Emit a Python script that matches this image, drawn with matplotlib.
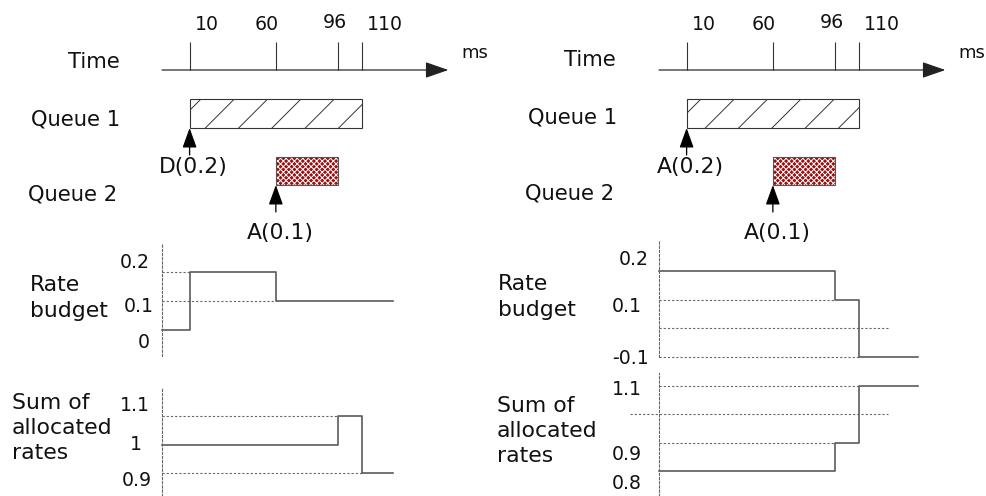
import matplotlib.pyplot as plt

# figure is laid out in pixels; drawn at 200 dpi so the hatch tile matches
W, H, DPI = 987, 496, 200
PT = 72 / DPI  # points per pixel

plt.rcParams['lines.scale_dashes'] = False
plt.rcParams['hatch.linewidth'] = 0.35

# ---- data (time in ms) ----
t_axis = -6  # time where the value axes sit

time_ticks = [10, 60, 96, 110]
time_tick_labels = ['10', '60', '96', '110']
time_end = 160

queue1_span = (10, 110)
queue2_span = (60, 96)

left_budget_t = [t_axis, 10, 60, 128]
left_budget_v = [0.0, 0.2, 0.1, 0.1]
left_budget_guides = [0.2, 0.1]
left_budget_guide_starts = [t_axis, t_axis]
left_budget_guide_ends = [10, 60]
left_budget_ticks = [0.2, 0.1, 0.0]
left_budget_tick_labels = ['0.2', '0.1', '0']

left_sum_t = [t_axis, 96, 110, 128]
left_sum_v = [1.0, 1.1, 0.9, 0.9]
left_sum_guides = [1.1, 0.9]
left_sum_guide_starts = [t_axis, t_axis]
left_sum_guide_ends = [96, 110]
left_sum_ticks = [1.1, 1.0, 0.9]
left_sum_tick_labels = ['1.1', '1', '0.9']

right_budget_t = [t_axis, 96, 110, 144]
right_budget_v = [0.2, 0.1, -0.1, -0.1]
right_budget_guides = [0.1, 0.0, -0.1]
right_budget_guide_starts = [t_axis, t_axis, t_axis]
right_budget_guide_ends = [96, 127, 110]
right_budget_ticks = [0.2, 0.1, -0.1]
right_budget_tick_labels = ['0.2', '0.1', '-0.1']

right_sum_t = [t_axis, 96, 110, 144]
right_sum_v = [0.8, 0.9, 1.1, 1.1]
right_sum_guides = [1.1, 1.0, 0.9]
right_sum_guide_starts = [t_axis, -23, t_axis]
right_sum_guide_ends = [110, 127, 96]
right_sum_ticks = [1.1, 0.9, 0.8]
right_sum_tick_labels = ['1.1', '0.9', '0.8']

# ---- layout ----
PX_PER_MS = 1.725
LINE_GRAY = '#555555'
DOT_GRAY = '#666666'
DARK = '#333333'
RED = '#9a1010'
ROW_FS = 7.6
BIG_FS = 7.9
NUM_FS = 6.8
ARR_FS = 7.9
MS_FS = 6.5
DOTTED = (0, (2.2 * PT, 2.0 * PT))

fig = plt.figure(figsize=(W / DPI, H / DPI), dpi=DPI)


def px_axes(x0, y0, x1, y1):
    ax = fig.add_axes([x0 / W, 1 - y1 / H, (x1 - x0) / W, (y1 - y0) / H])
    ax.set_xlim(t_axis, t_axis + (x1 - x0) / PX_PER_MS)
    ax.set_xticks([])
    ax.set_yticks([])
    for s in ax.spines.values():
        s.set_visible(False)
    ax.patch.set_alpha(0)
    return ax


def fig_text(x, y, s, size, ha='center'):
    fig.text(x / W, 1 - y / H, s, fontsize=size, ha=ha, va='center',
             color='#111111', linespacing=1.32)


def draw_top(axis_px, arrow_label):
    ax = px_axes(axis_px, 0, axis_px + 320, 250)
    ax.set_ylim(250, 0)
    axis_y = 70
    ax.annotate('', xy=(time_end, axis_y), xytext=(t_axis, axis_y),
                arrowprops=dict(arrowstyle='-|>,head_length=0.72,head_width=0.25',
                                mutation_scale=10, color='#222222', lw=1.2 * PT,
                                shrinkA=0, shrinkB=0))
    ax.vlines(time_ticks, 42, axis_y, color=DARK, lw=1.1 * PT)
    offsets = [(17, 45), (-9, 45), (-3, 48), (23, 45)]
    for t, lab, (ox, oy) in zip(time_ticks, time_tick_labels, offsets):
        ax.annotate(lab, xy=(t, axis_y), xytext=(ox, oy), textcoords='offset pixels',
                    ha='center', va='center', fontsize=NUM_FS, color='#111111')
    ax.annotate('ms', xy=(time_end, axis_y), xytext=(26, 17), textcoords='offset pixels',
                ha='center', va='center', fontsize=MS_FS, color='#111111')

    # queue 1 busy period
    ax.barh(113.5, queue1_span[1] - queue1_span[0], left=queue1_span[0], height=29,
            facecolor='white', edgecolor=DARK, hatch='//', lw=1.1 * PT)
    # queue 2 busy period
    ax.barh(171, queue2_span[1] - queue2_span[0], left=queue2_span[0], height=28,
            facecolor=RED, edgecolor='white', hatch='x' * 12, lw=0)
    ax.barh(171, queue2_span[1] - queue2_span[0], left=queue2_span[0], height=28,
            fill=False, edgecolor='#555555', lw=1.1 * PT)

    arrow = dict(arrowstyle='-|>,head_length=0.61,head_width=0.22', mutation_scale=10,
                 color='black', lw=1.3 * PT, shrinkA=0, shrinkB=0)
    ax.annotate('', xy=(queue1_span[0], 128), xytext=(queue1_span[0], 155), arrowprops=arrow)
    ax.annotate('', xy=(queue2_span[0], 185), xytext=(queue2_span[0], 212), arrowprops=arrow)
    ax.annotate(arrow_label, xy=(queue1_span[0], 167), xytext=(4, 0), textcoords='offset pixels',
                ha='center', va='center', fontsize=ARR_FS, color='#111111')
    ax.annotate('A(0.1)', xy=(queue2_span[0], 233), xytext=(4, 0), textcoords='offset pixels',
                ha='center', va='center', fontsize=ARR_FS, color='#111111')


def draw_panel(axis_px, top, bottom, ref_v, ref_px, ppu, t, v,
               guides, g_start, g_end, ticks, tick_labels, tick_offsets):
    ax = px_axes(axis_px, top, axis_px + 320, bottom)
    ax.set_ylim(ref_v - (bottom - ref_px) / ppu, ref_v + (ref_px - top) / ppu)
    ax.spines['left'].set_visible(True)
    ax.spines['left'].set_linestyle(DOTTED)
    ax.spines['left'].set_linewidth(1.1 * PT)
    ax.spines['left'].set_color(DOT_GRAY)
    ax.hlines(guides, g_start, g_end, colors=DOT_GRAY, linestyles=[DOTTED],
              lw=1.1 * PT, clip_on=False)
    ax.step(t, v, where='post', color=LINE_GRAY, lw=1.6 * PT, clip_on=False)
    for val, lab, (ox, oy) in zip(ticks, tick_labels, tick_offsets):
        ax.annotate(lab, xy=(t_axis, val), xytext=(ox, oy), textcoords='offset pixels',
                    ha='right', va='center', fontsize=NUM_FS, color='#111111',
                    annotation_clip=False)


# ---- left diagram ----
draw_top(162, 'D(0.2)')
fig_text(94, 62, 'Time', ROW_FS)
fig_text(76, 119, 'Queue 1', ROW_FS)
fig_text(73, 195, 'Queue 2', ROW_FS)
fig_text(30, 298, 'Rate\nbudget', BIG_FS, ha='left')
fig_text(12, 428, 'Sum of\nallocated\nrates', BIG_FS, ha='left')
draw_panel(162, 243, 356, 0.0, 330, 290, left_budget_t, left_budget_v,
           left_budget_guides, left_budget_guide_starts, left_budget_guide_ends,
           left_budget_ticks, left_budget_tick_labels, [(-12, 10), (-8, -6), (-12, -12)])
draw_panel(162, 387, 496, 1.0, 444.5, 287, left_sum_t, left_sum_v,
           left_sum_guides, left_sum_guide_starts, left_sum_guide_ends,
           left_sum_ticks, left_sum_tick_labels, [(-12, 10), (-20, 0), (-10, -7)])

# ---- right diagram ----
draw_top(659, 'A(0.2)')
fig_text(590, 60, 'Time', ROW_FS)
fig_text(573, 117, 'Queue 1', ROW_FS)
fig_text(570, 194, 'Queue 2', ROW_FS)
fig_text(498, 297, 'Rate\nbudget', BIG_FS, ha='left')
fig_text(497, 431, 'Sum of\nallocated\nrates', BIG_FS, ha='left')
draw_panel(659, 240, 357, 0.0, 328.3, 287, right_budget_t, right_budget_v,
           right_budget_guides, right_budget_guide_starts, right_budget_guide_ends,
           right_budget_ticks, right_budget_tick_labels, [(-10, 11), (-17, -7), (-10, -1)])
draw_panel(659, 373, 496, 1.0, 414.3, 285, right_sum_t, right_sum_v,
           right_sum_guides, right_sum_guide_starts, right_sum_guide_ends,
           right_sum_ticks, right_sum_tick_labels, [(-17, -4), (-17, -12), (-17, -12)])

fig.savefig('out.png', dpi=DPI, facecolor='white')
